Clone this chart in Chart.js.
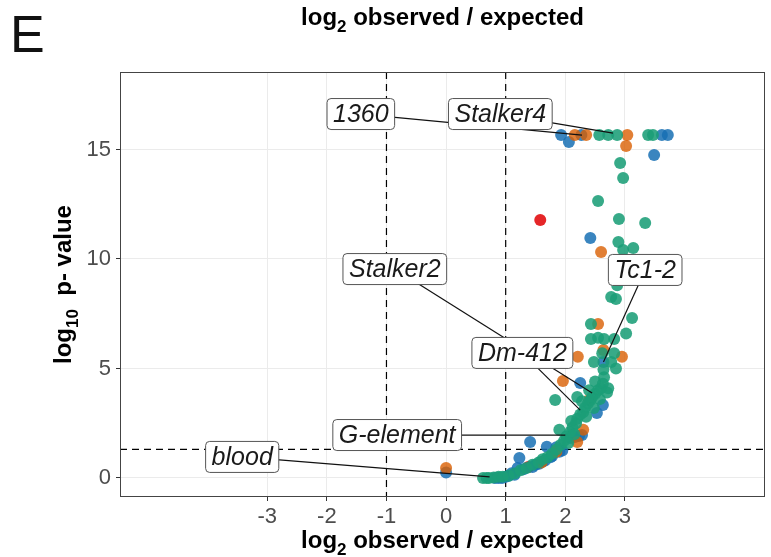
<!DOCTYPE html>
<html>
<head>
<meta charset="utf-8">
<script src="https://cdn.jsdelivr.net/npm/chart.js@4.4.1/dist/chart.umd.min.js"></script>
<style>
  html, body { margin: 0; padding: 0; background: #fff; }
</style>
</head>
<body>
<canvas id="myChart" width="771" height="557"></canvas>
<script>
// --- data (x = log2 observed/expected, y = -log10 p) ---
var greenX = [0.62, 0.68, 0.72, 0.80, 0.88, 0.95, 1.05, 1.15, 1.25, 1.35, 1.45, 1.55, 1.62, 1.70, 1.78, 1.85, 1.92, 1.98, 2.02, 2.08, 2.12,
              2.18, 2.20, 2.25, 2.30, 2.33, 2.38, 2.42, 2.45, 2.50, 2.55, 2.60, 2.63, 2.28, 2.35, 2.48, 2.15, 2.05, 1.83, 2.40, 2.50, 2.65,
              2.72, 2.20, 2.58, 2.70, 2.10, 1.90,
              2.64, 2.85, 2.48, 2.77, 2.62, 2.82, 2.43, 2.55, 2.65, 2.82, 3.02, 2.43, 3.12, 2.77, 2.85, 2.87, 2.97, 3.14, 2.89, 2.90, 3.34,
              2.55, 2.97, 2.92, 2.57, 2.72, 2.87, 3.39, 3.47]
var greenY = [0.00, 0.00, 0.00, 0.02, 0.05, 0.05, 0.10, 0.20, 0.35, 0.45, 0.60, 0.70, 0.85, 0.95, 1.10, 1.30, 1.50, 1.70, 1.90, 2.10, 2.30,
              2.50, 2.70, 2.90, 3.00, 3.20, 3.40, 3.55, 3.70, 3.85, 4.00, 4.10, 4.30, 3.50, 2.80, 3.20, 2.00, 1.60, 3.56, 4.00, 4.40, 4.60,
              4.10, 3.70, 3.60, 3.90, 2.60, 2.20,
              4.95, 5.00, 5.30, 5.30, 5.70, 5.70, 6.35, 6.40, 6.35, 6.35, 6.60, 7.03, 7.30, 8.26, 8.17, 8.80, 10.41, 10.50, 10.78, 11.83, 11.64,
              12.65, 13.70, 14.38, 15.66, 15.66, 15.66, 15.66, 15.66]

var orangeX = [0.00, 2.16, 2.35, 3.04, 3.02, 2.60, 2.55, 2.21, 2.95, 2.64, 1.96, 2.40, 2.20, 1.85, 1.60, 2.30]
var orangeY = [0.45, 15.66, 15.66, 15.66, 15.16, 10.32, 7.03, 5.53, 5.53, 5.84, 4.43, 3.56, 1.64, 1.20, 0.70, 2.20]

var blueX = [0.00, 1.93, 2.06, 2.27, 3.62, 3.72, 3.49, 2.42, 2.64, 2.25, 2.63, 2.53, 2.16, 2.28, 2.08, 2.23, 1.41, 1.69, 1.85,
             1.23, 1.20, 1.10, 0.82, 0.94, 1.50, 1.62, 1.75, 1.95, 1.30,
             0.88, 1.00, 1.05, 1.15, 1.45, 1.56, 1.66, 1.78, 1.90]
var blueY = [0.25, 15.66, 15.34, 15.66, 15.66, 15.66, 14.75, 10.96, 5.30, 4.34, 3.33, 2.97, 1.87, 1.96, 1.83, 1.92, 1.64, 1.42, 1.40,
             0.91, 0.45, 0.22, 0.00, 0.00, 0.60, 0.75, 0.95, 1.25, 0.40,
             0.00, 0.05, 0.10, 0.15, 0.50, 0.65, 0.80, 1.00, 1.20]

var redX = [1.58, 1.38]
var redY = [11.78, 0.50]

var xTicks = [-3, -2, -1, 0, 1, 2, 3]
var yTicks = [0, 5, 10, 15]

// labelled elements: point + where the box sits (data units)
var labelNames = ['1360', 'Stalker4', 'Stalker2', 'Dm-412', 'Tc1-2', 'G-element', 'blood']
var labelPtX = [2.28, 2.80, 2.45, 2.25, 2.64, 2.00, 0.73]
var labelPtY = [15.66, 15.75, 3.88, 3.10, 5.30, 1.96, 0.05]
var labelBoxX = [-1.43, 0.91, -0.86, 1.28, 3.34, -0.82, -3.42]
var labelBoxY = [16.62, 16.62, 9.54, 5.71, 9.50, 1.96, 0.96]

var FONT = '"Liberation Sans", Arial, sans-serif'

function pts(xs, ys) {
    return xs.map(function (x, i) { return {x: x, y: ys[i]} })
}

function drawParts(ctx, parts, x, y, size) {
    // parts: [text, isSub]; centered at x, baseline y
    var total = 0
    parts.forEach(function (p) {
        ctx.font = 'bold ' + (p[1] ? Math.round(size * 0.7) : size) + 'px ' + FONT
        total += ctx.measureText(p[0]).width
    })
    var cx = x - total / 2
    parts.forEach(function (p) {
        ctx.font = 'bold ' + (p[1] ? Math.round(size * 0.7) : size) + 'px ' + FONT
        ctx.fillText(p[0], cx, p[1] ? y + size * 0.3 : y)
        cx += ctx.measureText(p[0]).width
    })
}

var overlay = {
    id: 'overlay',
    beforeDatasetsDraw: function (chart) {
        var ctx = chart.ctx, a = chart.chartArea
        var sx = chart.scales.x, sy = chart.scales.y
        ctx.save()
        ctx.strokeStyle = '#000'
        ctx.lineWidth = 1.2
        ctx.setLineDash([7, 5])
        ;[-1, 1].forEach(function (v) {
            var px = sx.getPixelForValue(v)
            ctx.beginPath(); ctx.moveTo(px, a.top); ctx.lineTo(px, a.bottom); ctx.stroke()
        })
        var py = sy.getPixelForValue(-Math.log10(0.05))
        ctx.beginPath(); ctx.moveTo(a.left, py); ctx.lineTo(a.right, py); ctx.stroke()
        ctx.restore()
    },
    afterDatasetsDraw: function (chart) {
        var ctx = chart.ctx
        var sx = chart.scales.x, sy = chart.scales.y
        ctx.save()
        // connectors first, boxes cover them
        ctx.strokeStyle = '#111'
        ctx.lineWidth = 1.2
        labelNames.forEach(function (n, i) {
            ctx.beginPath()
            ctx.moveTo(sx.getPixelForValue(labelBoxX[i]), sy.getPixelForValue(labelBoxY[i]))
            ctx.lineTo(sx.getPixelForValue(labelPtX[i]), sy.getPixelForValue(labelPtY[i]))
            ctx.stroke()
        })
        ctx.font = 'italic 25px ' + FONT
        ctx.textBaseline = 'middle'
        ctx.textAlign = 'center'
        labelNames.forEach(function (n, i) {
            var cx = sx.getPixelForValue(labelBoxX[i]), cy = sy.getPixelForValue(labelBoxY[i])
            var w = ctx.measureText(n).width + 12, h = 31
            ctx.beginPath()
            ctx.roundRect(cx - w / 2, cy - h / 2, w, h, 4)
            ctx.fillStyle = '#fff'
            ctx.fill()
            ctx.strokeStyle = '#555'
            ctx.lineWidth = 1
            ctx.stroke()
            ctx.fillStyle = '#1a1a1a'
            ctx.fillText(n, cx, cy + 1)
        })
        ctx.restore()
    },
    afterDraw: function (chart) {
        var ctx = chart.ctx, a = chart.chartArea
        ctx.save()
        // panel border
        ctx.strokeStyle = '#444'
        ctx.lineWidth = 1
        ctx.strokeRect(a.left + 0.5, a.top + 0.5, a.right - a.left - 1, a.bottom - a.top - 1)
        ctx.fillStyle = '#000'
        ctx.textBaseline = 'alphabetic'
        ctx.textAlign = 'left'
        var mid = (a.left + a.right) / 2
        drawParts(ctx, [['log', false], ['2', true], [' observed / expected', false]], mid, 25, 24)
        drawParts(ctx, [['log', false], ['2', true], [' observed / expected', false]], mid, 548, 24)
        ctx.translate(71, (a.top + a.bottom) / 2)
        ctx.rotate(-Math.PI / 2)
        drawParts(ctx, [['log', false], ['10', true], ['  p- value', false]], 0, 0, 24)
        ctx.setTransform(1, 0, 0, 1, 0, 0)
        ctx.font = '52px ' + FONT
        ctx.fillStyle = '#111'
        ctx.fillText('E', 10, 52)
        ctx.restore()
    }
}

var dot = function (col) {
    return {
        type: 'scatter',
        backgroundColor: col,
        borderWidth: 0,
        pointRadius: 6,
        pointHoverRadius: 6
    }
}

var ctx = document.getElementById('myChart')
var myChart = new Chart(ctx, {
    type: 'scatter',
    data: {
        datasets: [
            Object.assign(dot('rgba(27,158,119,0.88)'), {label: 'green', data: pts(greenX, greenY)}),
            Object.assign(dot('rgba(217,95,2,0.8)'), {label: 'orange', data: pts(orangeX, orangeY)}),
            Object.assign(dot('rgba(23,112,180,0.85)'), {label: 'blue', data: pts(blueX, blueY)}),
            Object.assign(dot('rgba(228,26,28,0.95)'), {label: 'red', data: pts(redX, redY)})
        ]
    },
    options: {
        responsive: false,
        animation: false,
        events: [],
        layout: {padding: {top: 72, right: 6, left: 0, bottom: 0}},
        plugins: {legend: {display: false}, tooltip: {enabled: false}},
        scales: {
            x: {
                min: -5.47, max: 5.35,
                afterBuildTicks: function (s) { s.ticks = xTicks.map(function (v) { return {value: v} }) },
                afterFit: function (s) { s.height = 60 },
                grid: {color: '#ebebeb', lineWidth: 1, tickColor: '#333', tickLength: 4, drawOnChartArea: true},
                border: {display: false},
                ticks: {color: '#4d4d4d', font: {size: 22, family: FONT}, padding: 3, maxRotation: 0,
                        callback: function (v) { return v }}
            },
            y: {
                min: -0.87, max: 18.54,
                afterBuildTicks: function (s) { s.ticks = yTicks.map(function (v) { return {value: v} }) },
                afterFit: function (s) { s.width = 120 },
                grid: {color: '#ebebeb', lineWidth: 1, tickColor: '#333', tickLength: 4},
                border: {display: false},
                ticks: {color: '#4d4d4d', font: {size: 22, family: FONT}, padding: 5,
                        callback: function (v) { return v }}
            }
        }
    },
    plugins: [overlay]
})
</script>
</body>
</html>
